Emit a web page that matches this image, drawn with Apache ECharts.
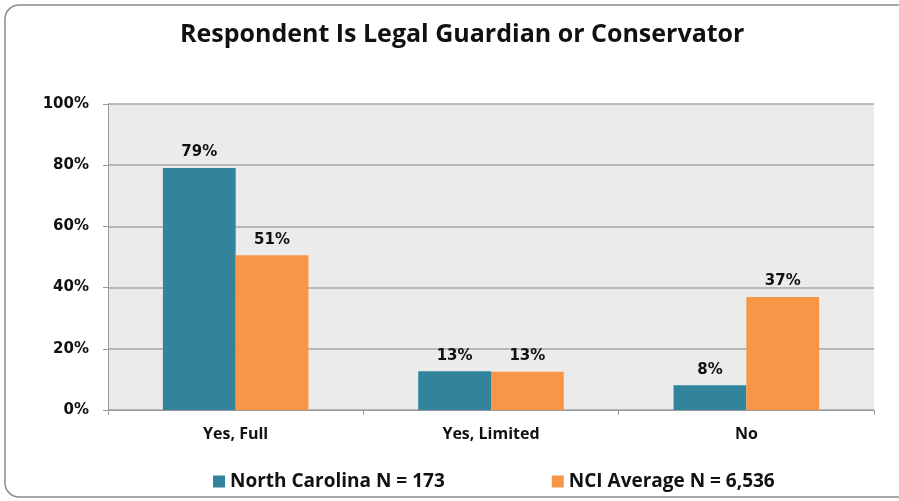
<!DOCTYPE html>
<html><head><meta charset="utf-8">
<script src="https://cdn.jsdelivr.net/npm/echarts@6/dist/echarts.min.js"></script>
<style>html,body{margin:0;padding:0;background:#fff}#c{width:899px;height:501px}</style>
</head><body><div id="c"></div>
<script>
var categories = ['Yes, Full', 'Yes, Limited', 'No'];
var northCarolina = [79.1, 12.7, 8.1];
var nciAverage = [50.6, 12.5, 36.9];
var seriesNames = ['North Carolina N = 173', 'NCI Average N = 6,536'];
var yTicks = [0, 20, 40, 60, 80, 100];

var narrow = '"Open Sans", sans-serif';
var chart = echarts.init(document.getElementById('c'));
var lbl = {show: true, position: 'top', distance: 8, fontFamily: 'DejaVu Sans', fontWeight: 'bold', fontSize: 15, color: '#111',
  formatter: function (p) { return Math.round(p.value) + '%'; }};
chart.setOption({
  animation: false,
  title: {text: 'Respondent Is Legal Guardian or Conservator', left: 175, top: 17,
    textStyle: {fontFamily: narrow, fontWeight: 'bold', fontSize: 25, color: '#111'}},
  graphic: [{type: 'rect', shape: {x: 5, y: 5, width: 920, height: 492, r: 14},
    style: {fill: 'none', stroke: '#8c8c8c', lineWidth: 1.5}, z: -1}],
  grid: {left: 108, right: 25, top: 104, bottom: 91, backgroundColor: '#ebebeb', show: true, borderWidth: 0},
  legend: {bottom: 5, left: 208, itemGap: 107, itemWidth: 12, itemHeight: 12, icon: 'rect',
    textStyle: {fontFamily: narrow, fontWeight: 'bold', fontSize: 19, color: '#111'}},
  xAxis: {type: 'category', data: categories,
    axisLine: {lineStyle: {color: '#9a9a9a'}}, axisTick: {show: true, length: 5, lineStyle: {color: '#9a9a9a'}},
    axisLabel: {margin: 16, fontFamily: narrow, fontWeight: 'bold', fontSize: 16, color: '#111'}},
  yAxis: {type: 'value', min: 0, max: 100, interval: 20,
    axisLine: {show: true, lineStyle: {color: '#9a9a9a'}}, axisTick: {show: true, length: 5, lineStyle: {color: '#9a9a9a'}},
    splitLine: {lineStyle: {color: '#a6a6a6', width: 1.5}},
    axisLabel: {margin: 19, fontFamily: 'DejaVu Sans', fontWeight: 'bold', fontSize: 15, color: '#111',
      formatter: function (v) { return yTicks.indexOf(v) >= 0 ? v + '%' : ''; }}},
  series: [
    {name: seriesNames[0], type: 'bar', data: northCarolina, barGap: '0%', barCategoryGap: '43%',
      itemStyle: {color: '#31849b'}, label: lbl},
    {name: seriesNames[1], type: 'bar', data: nciAverage,
      itemStyle: {color: '#f79646'}, label: lbl}
  ]
});
</script></body></html>
